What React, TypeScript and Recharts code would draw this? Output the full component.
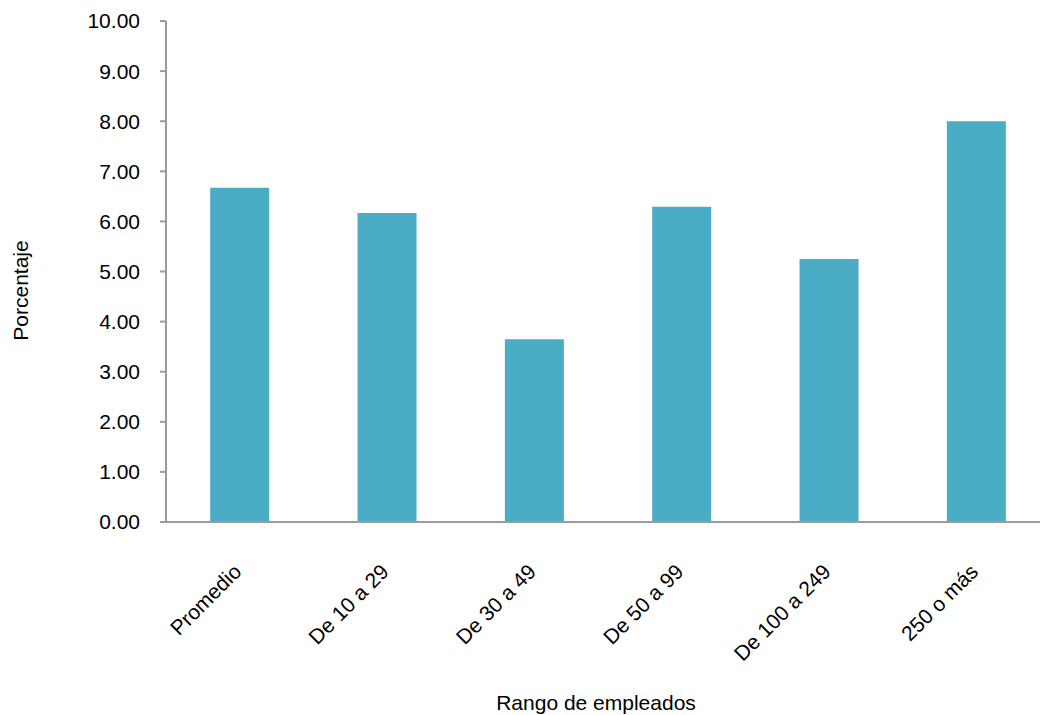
import React from "react";
import { BarChart, Bar, XAxis, YAxis } from "recharts";

const categories = ["Promedio", "De 10 a 29", "De 30 a 49", "De 50 a 99", "De 100 a 249", "250 o más"];
const values = [6.67, 6.17, 3.65, 6.29, 5.25, 8.0];
const yTicks = [0, 1, 2, 3, 4, 5, 6, 7, 8, 9, 10];
const boundaryTicks = [0, 1, 2, 3, 4, 5, 6];

const data = categories.map((name, i) => ({ name, value: values[i] }));

const FONT = "'Liberation Sans', Arial, sans-serif";
const AXIS = "#9b9b9b";

function RotatedTick(props: any) {
  const { x, y, payload } = props;
  return (
    <g transform={`translate(${x},${y})`}>
      <text
        x={3}
        y={43}
        textAnchor="end"
        transform="rotate(-45, 3, 43)"
        fontSize={21}
        fontFamily={FONT}
        fill="#000"
      >
        {payload.value}
      </text>
    </g>
  );
}

export default function App() {
  return (
    <div
      style={{
        position: "absolute",
        left: 0,
        top: 0,
        width: 1040,
        height: 715,
        overflow: "hidden",
        background: "#fff",
      }}
    >
      <BarChart
        width={1060}
        height={715}
        data={data}
        margin={{ top: 21, right: 10, bottom: 0, left: 0 }}
        barCategoryGap="30%"
      >
        <XAxis
          xAxisId="bounds"
          type="number"
          domain={[0, 6]}
          ticks={boundaryTicks}
          height={0}
          axisLine={false}
          tickSize={6}
          tickLine={{ stroke: AXIS, strokeWidth: 2 }}
          tick={() => <g />}
        />
        <XAxis
          xAxisId="cat"
          dataKey="name"
          height={193}
          tickLine={false}
          axisLine={{ stroke: AXIS, strokeWidth: 2 }}
          interval={0}
          tick={<RotatedTick />}
          label={{
            content: (p: any) => (
              <text
                x={p.viewBox.x + p.viewBox.width / 2 - 12}
                y={p.viewBox.y + 188}
                textAnchor="middle"
                fontSize={21}
                fontFamily={FONT}
                fill="#000"
              >
                Rango de empleados
              </text>
            ),
          }}
        />
        <YAxis
          width={166}
          domain={[0, 10]}
          ticks={yTicks}
          interval={0}
          tickFormatter={(v: number) => v.toFixed(2)}
          tickSize={6}
          tickMargin={20}
          axisLine={{ stroke: AXIS, strokeWidth: 2 }}
          tickLine={{ stroke: AXIS, strokeWidth: 2 }}
          tick={{ fontSize: 21, fontFamily: FONT, fill: "#000" }}
          label={{
            content: (p: any) => {
              const cy = p.viewBox.y + p.viewBox.height / 2 + 19;
              return (
                <text
                  x={20}
                  y={cy}
                  textAnchor="middle"
                  dominantBaseline="central"
                  transform={`rotate(-90, 20, ${cy})`}
                  fontSize={21}
                  fontFamily={FONT}
                  fill="#000"
                >
                  Porcentaje
                </text>
              );
            },
          }}
        />
        <Bar xAxisId="cat" dataKey="value" fill="#4BACC6" isAnimationActive={false} />
      </BarChart>
    </div>
  );
}
